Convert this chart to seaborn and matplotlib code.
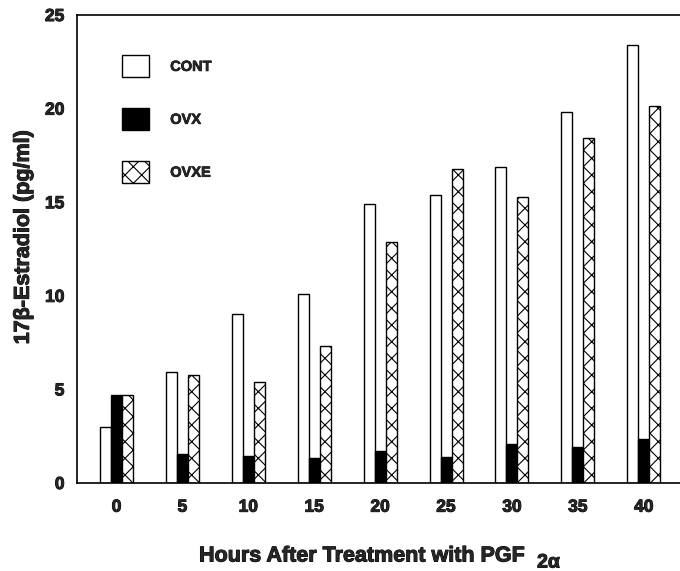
import pandas as pd
import numpy as np
import matplotlib
matplotlib.use("Agg")
import matplotlib.pyplot as plt
import matplotlib.patheffects as pe
import seaborn as sns
from matplotlib.patches import Patch

# values
hours = ["0", "5", "10", "15", "20", "25", "30", "35", "40"]
cont = [3.0, 5.95, 9.05, 10.1, 14.9, 15.4, 16.9, 19.8, 23.4]
ovx = [4.7, 1.55, 1.45, 1.35, 1.7, 1.4, 2.1, 1.9, 2.35]
ovxe = [4.7, 5.75, 5.4, 7.3, 12.9, 16.75, 15.3, 18.45, 20.15]
groups = ["CONT", "OVX", "OVXE"]

df = pd.DataFrame({
    "Hours": hours * 3,
    "E2": cont + ovx + ovxe,
    "Group": np.repeat(groups, len(hours)),
})

sns.set_theme(style="white")
plt.rcParams["font.family"] = ["Liberation Sans", "DejaVu Sans"]
plt.rcParams["hatch.linewidth"] = 0.8

heavy = [pe.withStroke(linewidth=0.7, foreground="black")]

fig = plt.figure(figsize=(6.8, 5.71), dpi=100)
ax = fig.add_axes([0.1132, 0.1541, 0.8868, 0.8196])

palette = {"CONT": "white", "OVX": "black", "OVXE": "white"}
sns.barplot(data=df, x="Hours", y="E2", hue="Group", order=hours,
            hue_order=groups, palette=palette, edgecolor="black",
            linewidth=1.0, width=0.5, gap=0, legend=False, ax=ax)

for bar in ax.containers[2]:
    bar.set_hatch("xx")

ax.set_ylim(0, 25)
ax.set_xlim(-0.6, 8.55)
ax.set_yticks([0, 5, 10, 15, 20, 25])

for side in ["left", "top", "bottom"]:
    ax.spines[side].set_visible(True)
    ax.spines[side].set_color("black")
    ax.spines[side].set_linewidth(1.2)
ax.spines["right"].set_visible(False)

ax.tick_params(axis="y", direction="in", length=6.5, width=1, color="black",
               pad=9, labelsize=12.5)
ax.tick_params(axis="x", length=0, pad=12, labelsize=12.5)
for lab in ax.get_xticklabels() + ax.get_yticklabels():
    lab.set_fontweight("bold")
    lab.set_path_effects(heavy)

ax.set_ylabel("17β-Estradiol (pg/ml)", fontsize=15.5, fontweight="bold",
              va="center", path_effects=heavy)
ax.yaxis.set_label_coords(-0.089, 0.525)

# x label: main text plus a large "2α" subscript
ax.set_xlabel("Hours After Treatment with PGF", fontsize=15.5, fontweight="bold",
              ha="right", va="center", path_effects=heavy)
ax.xaxis.set_label_coords(0.743, -0.156)
ax.text(0.763, -0.171, "2α", transform=ax.transAxes, fontsize=14,
        fontweight="bold", ha="left", va="center", path_effects=heavy)

handles = [
    Patch(facecolor="white", edgecolor="black", linewidth=1.0),
    Patch(facecolor="black", edgecolor="black", linewidth=1.0),
    Patch(facecolor="white", edgecolor="black", linewidth=1.0, hatch="xx"),
]
leg = ax.legend(handles, groups, loc="upper left", bbox_to_anchor=(0.0746, 0.9145),
                frameon=False, borderpad=0, borderaxespad=0, handlelength=1.87,
                handleheight=1.99, handletextpad=1.44, labelspacing=2.09,
                prop={"weight": "bold", "size": 10.5})
for t in leg.get_texts():
    t.set_path_effects([pe.withStroke(linewidth=0.5, foreground="black")])

fig.savefig("out.png", dpi=100)
